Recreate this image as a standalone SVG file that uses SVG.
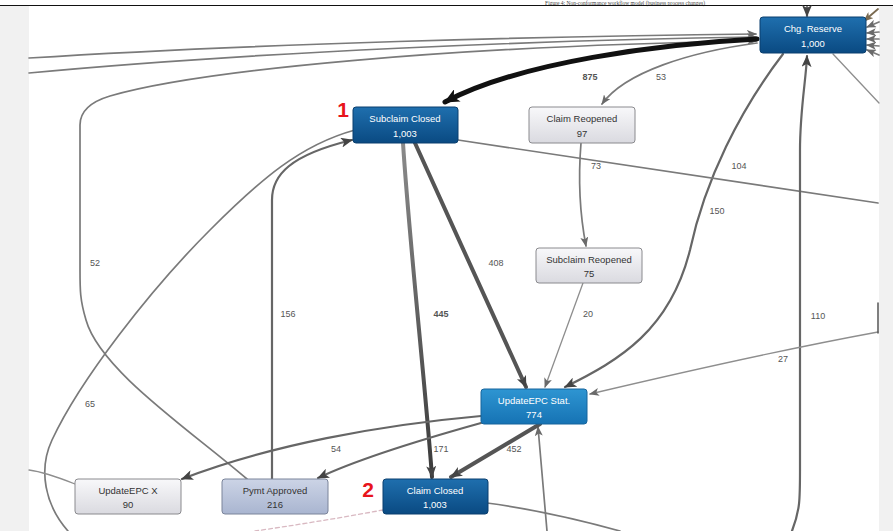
<svg xmlns="http://www.w3.org/2000/svg" width="893" height="531" viewBox="0 0 893 531">
<defs>
<linearGradient id="gDark" x1="0" y1="0" x2="0" y2="1"><stop offset="0" stop-color="#1f6fae"/><stop offset="1" stop-color="#0a4a82"/></linearGradient>
<linearGradient id="gMed" x1="0" y1="0" x2="0" y2="1"><stop offset="0" stop-color="#2e95d2"/><stop offset="1" stop-color="#1673b4"/></linearGradient>
<linearGradient id="gLight" x1="0" y1="0" x2="0" y2="1"><stop offset="0" stop-color="#f8f8fa"/><stop offset="1" stop-color="#dadae0"/></linearGradient>
<linearGradient id="gPale" x1="0" y1="0" x2="0" y2="1"><stop offset="0" stop-color="#ccd4e6"/><stop offset="1" stop-color="#a9b5d0"/></linearGradient>
<linearGradient id="g445" x1="0" y1="0" x2="0" y2="1"><stop offset="0" stop-color="#8a8a8a"/><stop offset="1" stop-color="#3a3a3a"/></linearGradient>
<marker id="mBlack" markerUnits="userSpaceOnUse" markerWidth="16" markerHeight="14" refX="14" refY="7" orient="auto"><path d="M0,0 L15,7 L0,14 L4,7 z" fill="#111"/></marker>
<marker id="mDark" markerUnits="userSpaceOnUse" markerWidth="12" markerHeight="10" refX="11" refY="5" orient="auto"><path d="M0,0 L12,5 L0,10 L3,5 z" fill="#444"/></marker>
<marker id="mGray" markerUnits="userSpaceOnUse" markerWidth="10" markerHeight="8" refX="9" refY="4" orient="auto"><path d="M0,0 L10,4 L0,8 L2.5,4 z" fill="#6a6a6a"/></marker>
<marker id="mBrown" markerUnits="userSpaceOnUse" markerWidth="10" markerHeight="8" refX="9" refY="4" orient="auto"><path d="M0,0 L10,4 L0,8 L2.5,4 z" fill="#7a6a50"/></marker>
</defs>
<style>
.e{fill:none;stroke-linecap:round}
.t1{stroke:#111;stroke-width:5}
.t2{stroke:#555;stroke-width:4}
.t3{stroke:#666;stroke-width:2.2}
.t4{stroke:#7a7a7a;stroke-width:1.7}
.t5{stroke:#8e8e8e;stroke-width:1.3}
.lbl{font-family:"Liberation Sans",Arial,sans-serif;font-size:9px;fill:#555;text-anchor:middle}
.nt{font-family:"Liberation Sans",Arial,sans-serif;font-size:9.5px;text-anchor:middle}
.w{fill:#fff}
.k{fill:#333}
.red{font-family:"Liberation Sans",Arial,sans-serif;font-size:21px;font-weight:bold;fill:#e8141c;text-anchor:middle}
</style>
<rect x="0" y="0" width="893" height="531" fill="#fff"/>
<rect x="0" y="6" width="29" height="525" fill="#f1f1f1"/>
<rect x="879" y="6" width="14" height="525" fill="#f1f1f1"/>
<text x="705" y="4.6" font-family="Liberation Serif,Times New Roman,serif" font-size="5.5" text-anchor="end" fill="#444">Figure 4: Non-conformance workflow model (business process changes)</text>
<line x1="0" y1="5.5" x2="893" y2="5.5" stroke="#111" stroke-width="1.2"/>

<g id="connectors">
<path class="e t4" d="M29,58 C250,44 550,36 756,34" marker-end="url(#mGray)"/>
<path class="e t4" d="M29,73 C250,52 550,40 756,37" marker-end="url(#mGray)"/>
<path class="e t4" d="M247,479 C190,430 100,370 86,320 C80,300 80,290 80,270 L80,125 Q80,105 110,96 C200,70 450,46 756,41" marker-end="url(#mGray)"/>
<path class="e t4" d="M68,531 C45,505 38,470 52,440 C80,380 150,290 210,230 C260,180 300,145 355,130"/>
<path class="e t1" d="M757,39 C660,44 520,62 445,102" marker-end="url(#mBlack)"/>
<path class="e t4" d="M757,43 C690,52 625,72 602,104" marker-end="url(#mGray)"/>
<path class="e t3" d="M272,479 L272,200 C272,175 290,155 352,140" stroke-width="2.6" marker-end="url(#mDark)"/>
<path class="e" d="M403,143 C410,250 425,380 432,477" stroke="url(#g445)" stroke-width="4" marker-end="url(#mDark)"/>
<path class="e t2" d="M415,143 C450,220 495,320 526,387" marker-end="url(#mDark)"/>
<path class="e t4" d="M581,143 C578,180 580,215 586,246" marker-end="url(#mGray)"/>
<path class="e t5" d="M583,283 L545,387" marker-end="url(#mGray)"/>
<path class="e t3" d="M783,54 C740,110 705,180 690,250 C670,330 620,360 565,387" marker-end="url(#mDark)"/>
<path class="e t4" d="M458,140 L878,203" stroke="#727272" stroke-width="2"/>
<path class="e t3" d="M792,531 C800,510 800,500 800,470 L800,150 C800,110 806,80 807,56" marker-end="url(#mDark)"/>
<path class="e t5" d="M878,332 C780,350 700,368 590,394" stroke-width="1.6" marker-end="url(#mGray)"/>
<path class="e" d="M878,303 L878,333" stroke="#555" stroke-width="1.5"/>
<path class="e t4" d="M487,503 C540,510 580,520 620,531"/>
<path class="e t4" d="M547,531 L538,427" marker-end="url(#mGray)"/>
<path class="e t2" d="M540,424 L451,477" stroke-width="5" marker-end="url(#mDark)"/>
<path class="e t3" d="M481,416 C380,425 270,445 182,479" stroke-width="1.8" marker-end="url(#mDark)"/>
<path class="e t3" d="M481,423 C420,440 360,458 318,478" stroke-width="1.8" marker-end="url(#mDark)"/>
<path class="e t5" d="M29,470 C45,472 60,478 75,484"/>
<path class="e" d="M383,510 C340,518 290,526 255,531" stroke="#d9b9c2" stroke-width="1.3" stroke-dasharray="4,3"/>
<path class="e t5" d="M833,54 L879,103"/>
<path class="e t3" d="M807,7 L807,16" marker-end="url(#mDark)"/>
<path class="e" d="M878,9 L864,21" stroke="#7a6a50" stroke-width="1.8" marker-end="url(#mBrown)"/>
<path class="e t4" d="M879,22 L867,27" marker-end="url(#mGray)"/>
<path class="e t4" d="M879,32 L867,33" marker-end="url(#mGray)"/>
<path class="e t4" d="M879,39 L867,39" marker-end="url(#mGray)"/>
<path class="e t4" d="M879,46 L867,45" marker-end="url(#mGray)"/>
<path class="e t4" d="M879,55 L867,50" marker-end="url(#mGray)"/>
</g>

<g id="labels">
<text class="lbl" x="590" y="80" font-weight="bold" fill="#333">875</text>
<text class="lbl" x="661" y="80">53</text>
<text class="lbl" x="596" y="169">73</text>
<text class="lbl" x="739" y="169">104</text>
<text class="lbl" x="717" y="214">150</text>
<text class="lbl" x="95" y="266">52</text>
<text class="lbl" x="496" y="266">408</text>
<text class="lbl" x="288" y="317">156</text>
<text class="lbl" x="441" y="317" font-weight="bold" fill="#333">445</text>
<text class="lbl" x="588" y="317">20</text>
<text class="lbl" x="818" y="319">110</text>
<text class="lbl" x="783" y="362">27</text>
<text class="lbl" x="90" y="407">65</text>
<text class="lbl" x="336" y="452">54</text>
<text class="lbl" x="441" y="452">171</text>
<text class="lbl" x="514" y="452">452</text>
<text class="red" x="343" y="117">1</text>
<text class="red" x="368" y="497">2</text>
</g>

<g id="chg-reserve"><rect x="760" y="17" width="106" height="36" rx="3" fill="url(#gDark)" stroke="#0a3f6e"/><text class="nt w" x="813" y="32">Chg. Reserve</text><text class="nt w" x="813" y="47">1,000</text></g>
<g id="subclaim-closed"><rect x="353" y="107" width="105" height="36" rx="3" fill="url(#gDark)" stroke="#0a3f6e"/><text class="nt w" x="405" y="122">Subclaim Closed</text><text class="nt w" x="405" y="137">1,003</text></g>
<g id="claim-reopened"><rect x="529" y="107" width="106" height="36" rx="3" fill="url(#gLight)" stroke="#8a8a8e"/><text class="nt k" x="582" y="122">Claim Reopened</text><text class="nt k" x="582" y="137">97</text></g>
<g id="subclaim-reopened"><rect x="536" y="248" width="106" height="35" rx="3" fill="url(#gLight)" stroke="#8a8a8e"/><text class="nt k" x="589" y="263">Subclaim Reopened</text><text class="nt k" x="589" y="277">75</text></g>
<g id="updateepc-stat"><rect x="481" y="389" width="106" height="35" rx="3" fill="url(#gMed)" stroke="#16649c"/><text class="nt w" x="534" y="404">UpdateEPC Stat.</text><text class="nt w" x="534" y="418">774</text></g>
<g id="updateepc-x"><rect x="75" y="479" width="106" height="35" rx="3" fill="url(#gLight)" stroke="#8a8a8e"/><text class="nt k" x="128" y="494">UpdateEPC X</text><text class="nt k" x="128" y="508">90</text></g>
<g id="pymt-approved"><rect x="222" y="479" width="106" height="35" rx="3" fill="url(#gPale)" stroke="#7a849a"/><text class="nt k" x="275" y="494">Pymt Approved</text><text class="nt k" x="275" y="508">216</text></g>
<g id="claim-closed"><rect x="383" y="479" width="105" height="35" rx="3" fill="url(#gDark)" stroke="#0a3f6e"/><text class="nt w" x="435" y="494">Claim Closed</text><text class="nt w" x="435" y="508">1,003</text></g>
</svg>
